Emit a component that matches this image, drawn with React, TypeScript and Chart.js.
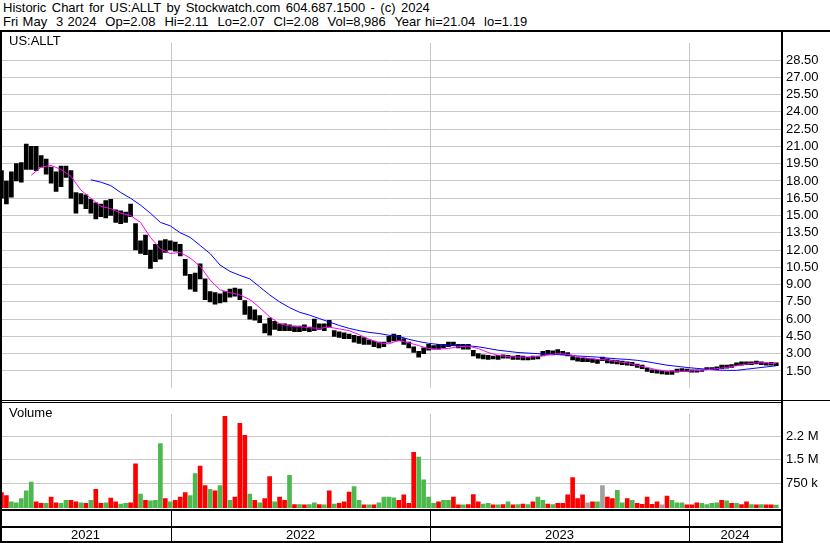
import React, { useEffect, useRef } from 'react';
import { Chart, registerables } from 'chart.js';

Chart.register(...registerables);

const FONT = '"Liberation Sans", Arial, Helvetica, sans-serif';

const HEADER_LINE_1 = 'Historic Chart for US:ALLT by Stockwatch.com 604.687.1500 - (c) 2024';
const HEADER_LINE_2 = 'Fri May  3 2024  Op=2.08  Hi=2.11  Lo=2.07  Cl=2.08  Vol=8,986  Year hi=21.04  lo=1.19';
const SYMBOL = 'US:ALLT';
const VOLUME_TITLE = 'Volume';

// x values are days since 2021-01-01; one bar per trading week (week ending Friday)
const FIRST_WEEK_DAY = 126; // Fri 2021-05-07
const WEEK_COUNT = 157; // last week ends Fri 2024-05-03
const weekDays = Array.from({ length: WEEK_COUNT }, (_, i) => FIRST_WEEK_DAY + 7 * i);

const X_MIN = 126.8;
const X_MAX = 1224.65;
const yearLabels = ['2021', '2022', '2023', '2024'];
const yearStartDays = [0, 365, 730, 1095];

const priceTicks = [1.5, 3, 4.5, 6, 7.5, 9, 10.5, 12, 13.5, 15, 16.5, 18, 19.5, 21, 22.5, 24, 25.5, 27, 28.5];
const volumeTicks = [0.75, 1.5, 2.25];
const volumeTickLabels = ['750 k', '1.5 M', '2.2 M'];

const weekHigh = [
  18.9, 18.0, 18.8, 19.5, 19.6, 21.2, 21.0, 21.0, 20.2, 19.9,
  19.2, 18.8, 19.3, 19.3, 18.9, 17.0, 16.9, 16.8, 16.4, 16.1,
  16.0, 16.3, 16.4, 15.5, 15.4, 15.3, 16.0, 14.3, 12.8, 13.3,
  12.0, 12.5, 12.8, 12.9, 12.8, 12.7, 12.5, 11.2, 9.9, 10.0,
  10.8, 9.5, 8.4, 8.3, 8.2, 8.4, 8.6, 8.7, 8.6, 7.6,
  7.1, 6.8, 6.3, 5.6, 6.1, 5.8, 5.6, 5.6, 5.5, 5.4,
  5.4, 5.5, 5.3, 6.0, 5.6, 5.6, 5.9, 5.0, 4.9, 4.8,
  4.7, 4.6, 4.5, 4.4, 4.2, 4.1, 4.0, 4.0, 4.5, 4.7,
  4.6, 4.3, 4.0, 3.6, 3.2, 3.5, 3.8, 3.7, 3.8, 3.8,
  4.0, 4.0, 3.8, 3.8, 3.8, 3.3, 3.0, 2.9, 2.85, 2.8,
  2.85, 2.9, 2.85, 2.8, 2.85, 2.8, 2.7, 2.8, 2.8, 3.2,
  3.3, 3.25, 3.35, 3.2, 3.1, 2.75, 2.65, 2.6, 2.6, 2.55,
  2.5, 2.7, 2.55, 2.45, 2.4, 2.35, 2.3, 2.25, 2.1, 2.0,
  1.75, 1.6, 1.55, 1.5, 1.45, 1.5, 1.65, 1.7, 1.65, 1.6,
  1.6, 1.6, 1.8, 1.8, 1.85, 2.0, 2.0, 2.05, 2.2, 2.3,
  2.3, 2.3, 2.35, 2.3, 2.2, 2.25, 2.2,
];

const weekLow = [
  16.5, 16.0, 16.6, 18.0, 17.9, 19.0, 19.0, 18.9, 19.2, 18.6,
  17.8, 17.1, 17.5, 18.3, 16.5, 15.2, 16.0, 15.6, 15.2, 14.7,
  14.9, 14.8, 15.0, 14.4, 14.3, 14.4, 14.9, 12.0, 11.7, 11.6,
  10.4, 11.0, 11.2, 11.8, 12.0, 11.9, 11.5, 9.8, 8.6, 8.4,
  9.5, 7.7, 7.5, 7.3, 7.4, 7.5, 7.9, 8.0, 7.7, 6.4,
  6.0, 5.9, 5.7, 4.8, 4.6, 5.1, 5.0, 5.0, 5.0, 4.9,
  4.9, 5.0, 4.9, 5.0, 5.1, 5.0, 5.3, 4.5, 4.4, 4.3,
  4.3, 4.0, 3.9, 3.8, 3.8, 3.6, 3.5, 3.6, 4.0, 4.1,
  4.1, 3.8, 3.5, 3.1, 2.7, 3.0, 3.3, 3.4, 3.4, 3.5,
  3.6, 3.7, 3.5, 3.4, 3.4, 2.8, 2.6, 2.55, 2.5, 2.55,
  2.5, 2.6, 2.6, 2.5, 2.5, 2.45, 2.45, 2.5, 2.55, 2.8,
  2.9, 2.9, 2.95, 2.9, 2.8, 2.45, 2.35, 2.3, 2.3, 2.25,
  2.15, 2.4, 2.2, 2.15, 2.1, 2.05, 2.0, 1.95, 1.8, 1.7,
  1.45, 1.35, 1.3, 1.25, 1.2, 1.19, 1.4, 1.45, 1.45, 1.4,
  1.4, 1.45, 1.6, 1.6, 1.6, 1.7, 1.75, 1.8, 1.95, 2.0,
  2.05, 2.05, 2.1, 2.05, 2.0, 2.0, 1.95,
];

// moving averages, one value every 2 weeks
const MA_STEP = 2;
const maShortStartWeek = 6;
const maShort = [
  18.5, 19.2, 19.35, 19.0, 18.4, 17.2, 16.5, 15.8, 15.6, 15.2,
  15.0, 14.4, 13.1, 12.1, 11.7, 11.8, 11.3, 10.6, 9.4, 8.55,
  8.3, 8.1, 7.7, 7.0, 6.2, 5.6, 5.4, 5.35, 5.25, 5.2,
  5.3, 5.15, 5.0, 4.65, 4.25, 3.95, 3.85, 4.15, 3.95, 3.7,
  3.45, 3.4, 3.45, 3.6, 3.65, 3.45, 3.1, 2.85, 2.75, 2.7,
  2.7, 2.75, 2.9, 3.0, 2.95, 2.75, 2.6, 2.5, 2.45, 2.3,
  2.2, 2.0, 1.8, 1.6, 1.5, 1.47, 1.48, 1.53, 1.6, 1.7,
  1.8, 1.95, 2.1, 2.2, 2.2, 2.12,
];
const maLongStartWeek = 18;
const maLong = [
  18.1, 17.9, 17.6, 17.0, 16.5, 15.9, 15.2, 14.4, 14.1, 13.5,
  13.1, 12.4, 11.7, 10.7, 10.15, 9.8, 9.5, 8.8, 8.1, 7.5,
  7.0, 6.6, 6.35, 6.05, 5.75, 5.45, 5.2, 5.0, 4.85, 4.75,
  4.6, 4.5, 4.25, 4.05, 3.9, 3.8, 3.72, 3.68, 3.68, 3.6,
  3.45, 3.3, 3.2, 3.1, 3.05, 3.0, 2.95, 2.92, 2.88, 2.8,
  2.75, 2.7, 2.62, 2.55, 2.5, 2.42, 2.3, 2.15, 2.0, 1.9,
  1.8, 1.72, 1.65, 1.58, 1.55, 1.55, 1.65, 1.75, 1.85, 1.95,
];

// weekly peak volume in millions of shares; r = down, g = up, n = unchanged
const weekVolume = [
  0.45, 0.35, 0.15, 0.12, 0.25, 0.5, 0.78, 0.15, 0.1, 0.1,
  0.3, 0.12, 0.1, 0.2, 0.2, 0.15, 0.12, 0.1, 0.2, 0.55,
  0.1, 0.12, 0.27, 0.15, 0.08, 0.1, 0.12, 1.37, 0.4, 0.2,
  0.18, 0.2, 2.02, 0.25, 0.15, 0.2, 0.3, 0.45, 0.35, 1.06,
  1.3, 0.67, 0.55, 0.5, 0.67, 2.9, 0.2, 0.3, 2.67, 2.29,
  0.4, 0.2, 0.12, 0.25, 0.96, 0.15, 0.3, 0.2, 1.0, 0.06,
  0.06, 0.05, 0.06, 0.12, 0.06, 0.05, 0.5, 0.08, 0.1, 0.15,
  0.46, 0.64, 0.2, 0.05, 0.05, 0.05, 0.12, 0.3, 0.3, 0.28,
  0.2, 0.37, 0.1, 1.74, 1.59, 0.86, 0.3, 0.1, 0.15, 0.2,
  0.2, 0.3, 0.05, 0.05, 0.06, 0.38, 0.15, 0.08, 0.1, 0.05,
  0.05, 0.06, 0.15, 0.05, 0.06, 0.08, 0.06, 0.15, 0.3, 0.2,
  0.08, 0.06, 0.1, 0.1, 0.37, 0.93, 0.25, 0.37, 0.12, 0.15,
  0.15, 0.67, 0.3, 0.25, 0.52, 0.12, 0.25, 0.2, 0.1, 0.07,
  0.3, 0.07, 0.15, 0.05, 0.33, 0.2, 0.12, 0.12, 0.05, 0.05,
  0.12, 0.1, 0.06, 0.1, 0.12, 0.2, 0.18, 0.1, 0.1, 0.06,
  0.15, 0.06, 0.05, 0.06, 0.05, 0.05, 0.04,
];
const weekDirection = [
  'r', 'r', 'g', 'g', 'g', 'g', 'g', 'r', 'r', 'g',
  'r', 'r', 'g', 'g', 'r', 'r', 'g', 'r', 'g', 'r',
  'r', 'g', 'r', 'r', 'g', 'g', 'r', 'r', 'g', 'r',
  'g', 'g', 'g', 'r', 'g', 'r', 'r', 'r', 'g', 'g',
  'r', 'r', 'g', 'r', 'g', 'r', 'g', 'r', 'r', 'r',
  'g', 'r', 'g', 'r', 'r', 'g', 'r', 'r', 'g', 'r',
  'g', 'r', 'g', 'g', 'r', 'g', 'r', 'g', 'r', 'r',
  'r', 'g', 'g', 'r', 'g', 'r', 'g', 'g', 'g', 'g',
  'r', 'r', 'r', 'r', 'g', 'g', 'g', 'g', 'r', 'g',
  'g', 'r', 'r', 'g', 'r', 'r', 'r', 'g', 'g', 'r',
  'g', 'r', 'g', 'r', 'g', 'r', 'g', 'r', 'g', 'g',
  'r', 'g', 'r', 'r', 'r', 'r', 'r', 'r', 'n', 'r',
  'g', 'n', 'r', 'r', 'g', 'g', 'r', 'g', 'r', 'r',
  'r', 'r', 'r', 'n', 'r', 'g', 'g', 'g', 'r', 'r',
  'r', 'g', 'g', 'g', 'g', 'r', 'g', 'r', 'g', 'r',
  'r', 'g', 'r', 'g', 'r', 'r', 'g',
];

const COLORS = {
  grid: '#c8c8c8',
  bar: '#000000',
  maShort: '#ff00ff',
  maLong: '#0000ff',
  up: '#4db84d',
  down: '#ff0000',
  flat: '#a0a0a0',
};

const VOL_MIN = -0.05;
const VOL_MAX = 2.98;

const maPoints = (values: number[], startWeek: number) =>
  values.map((v, k) => ({ x: weekDays[startWeek + k * MA_STEP], y: v }));

const xScale = () => ({
  type: 'linear' as const,
  min: X_MIN,
  max: X_MAX,
  offset: false,
  bounds: 'data' as const,
  afterBuildTicks: (s: any) => {
    s.ticks = yearStartDays.filter((d) => d > X_MIN && d < X_MAX).map((d) => ({ value: d }));
  },
  afterFit: (s: any) => {
    s.height = 0;
  },
  ticks: { display: false },
  grid: { color: COLORS.grid, drawTicks: false, offset: false },
  border: { display: false },
});

const priceFrame = {
  id: 'priceFrame',
  afterDraw(chart: any) {
    const { ctx, width, height, chartArea: a } = chart;
    ctx.save();
    ctx.fillStyle = '#000';
    ctx.fillRect(0, 0, width, 2);
    ctx.fillRect(0, 0, 2, height);
    ctx.fillRect(a.right, 0, 2, height);
    ctx.fillRect(0, height - 1, width, 1);
    ctx.font = `13px ${FONT}`;
    ctx.textAlign = 'left';
    ctx.textBaseline = 'middle';
    ctx.fillText(SYMBOL, 9, 11);
    ctx.restore();
  },
};

const volumeFrame = {
  id: 'volumeFrame',
  afterDraw(chart: any) {
    const { ctx, height, chartArea: a } = chart;
    const xs = chart.scales.x;
    ctx.save();
    ctx.fillStyle = '#000';
    ctx.fillRect(0, 1, a.right, 1);
    ctx.fillRect(0, 0, 2, height);
    ctx.fillRect(a.right, 0, 2, height);
    const bandTop = a.bottom + 1;
    ctx.fillRect(0, bandTop, a.right, 2);
    ctx.fillRect(0, bandTop + 17, a.right, 2);
    ctx.fillRect(0, bandTop + 32, a.right, 2);
    yearStartDays.forEach((d) => {
      const px = Math.round(xs.getPixelForValue(d));
      if (px > a.left && px < a.right) ctx.fillRect(px, bandTop, 1, 32);
    });
    ctx.font = `13px ${FONT}`;
    ctx.textAlign = 'center';
    ctx.textBaseline = 'middle';
    yearLabels.forEach((lab, k) => {
      const l = Math.max(0, xs.getPixelForValue(yearStartDays[k]));
      const r = k + 1 < yearStartDays.length ? xs.getPixelForValue(yearStartDays[k + 1]) : a.right;
      ctx.fillText(lab, (l + r) / 2, bandTop + 26);
    });
    ctx.textAlign = 'left';
    ctx.fillText(VOLUME_TITLE, 9, 12);
    ctx.restore();
  },
};

export default function App() {
  const priceRef = useRef<HTMLCanvasElement>(null);
  const volRef = useRef<HTMLCanvasElement>(null);

  useEffect(() => {
    const tickFont = { family: FONT, size: 13 };
    const pc = new Chart(priceRef.current as HTMLCanvasElement, {
      type: 'bar',
      data: {
        datasets: [
          {
            type: 'line',
            data: maPoints(maShort, maShortStartWeek),
            borderColor: COLORS.maShort,
            borderWidth: 1,
            pointRadius: 0,
            order: 1,
          } as any,
          {
            type: 'line',
            data: maPoints(maLong, maLongStartWeek),
            borderColor: COLORS.maLong,
            borderWidth: 1,
            pointRadius: 0,
            order: 2,
          } as any,
          {
            type: 'bar',
            data: weekDays.map((d, i) => ({ x: d, y: [weekLow[i], weekHigh[i]] })),
            backgroundColor: COLORS.bar,
            borderWidth: 0,
            barThickness: 4,
            order: 3,
          } as any,
        ],
      },
      options: {
        animation: false,
        responsive: false,
        devicePixelRatio: 1,
        events: [],
        layout: { padding: { left: 2, top: 2, bottom: 1, right: 0 } },
        plugins: { legend: { display: false }, tooltip: { enabled: false } },
        scales: {
          x: xScale() as any,
          y: {
            position: 'right',
            min: 0,
            max: 30,
            afterBuildTicks: (s: any) => {
              s.ticks = priceTicks.map((v) => ({ value: v }));
            },
            afterFit: (s: any) => {
              s.width = 49;
            },
            ticks: {
              font: tickFont,
              color: '#000',
              padding: 5,
              callback: (v: any) => Number(v).toFixed(2),
            },
            grid: { color: COLORS.grid, drawTicks: false },
            border: { display: false },
          },
        },
      },
      plugins: [priceFrame],
    });

    const vc = new Chart(volRef.current as HTMLCanvasElement, {
      type: 'bar',
      data: {
        datasets: [
          {
            data: weekDays.map((d, i) => ({ x: d, y: weekVolume[i] })),
            backgroundColor: weekDirection.map((c) =>
              c === 'g' ? COLORS.up : c === 'r' ? COLORS.down : COLORS.flat
            ),
            borderWidth: 0,
            barThickness: 4,
            base: VOL_MIN,
          } as any,
        ],
      },
      options: {
        animation: false,
        responsive: false,
        devicePixelRatio: 1,
        events: [],
        layout: { padding: { left: 2, top: 2, bottom: 35, right: 0 } },
        plugins: { legend: { display: false }, tooltip: { enabled: false } },
        scales: {
          x: xScale() as any,
          y: {
            position: 'right',
            min: VOL_MIN,
            max: VOL_MAX,
            afterBuildTicks: (s: any) => {
              s.ticks = volumeTicks.map((v) => ({ value: v }));
            },
            afterFit: (s: any) => {
              s.width = 49;
            },
            ticks: {
              font: tickFont,
              color: '#000',
              padding: 5,
              callback: (v: any) => {
                const k = volumeTicks.indexOf(Number(v));
                return k >= 0 ? volumeTickLabels[k] : '';
              },
            },
            grid: { color: COLORS.grid, drawTicks: false },
            border: { display: false },
          },
        },
      },
      plugins: [volumeFrame],
    });

    return () => {
      pc.destroy();
      vc.destroy();
    };
  }, []);

  const headerStyle: React.CSSProperties = {
    position: 'absolute',
    left: 3,
    fontFamily: FONT,
    fontSize: 13,
    lineHeight: '14px',
    whiteSpace: 'pre',
    color: '#000',
  };

  return (
    <div
      style={{
        position: 'fixed',
        left: 0,
        top: 0,
        width: 830,
        height: 543,
        background: '#fff',
        overflow: 'hidden',
      }}
    >
      <div style={{ ...headerStyle, top: 1, wordSpacing: '1.8px' }}>{HEADER_LINE_1}</div>
      <div style={{ ...headerStyle, top: 15, wordSpacing: '0.8px' }}>{HEADER_LINE_2}</div>
      <canvas
        ref={priceRef}
        width={830}
        height={371}
        style={{ position: 'absolute', left: 0, top: 30, width: 830, height: 371 }}
      />
      <canvas
        ref={volRef}
        width={830}
        height={142}
        style={{ position: 'absolute', left: 0, top: 401, width: 830, height: 142 }}
      />
    </div>
  );
}
